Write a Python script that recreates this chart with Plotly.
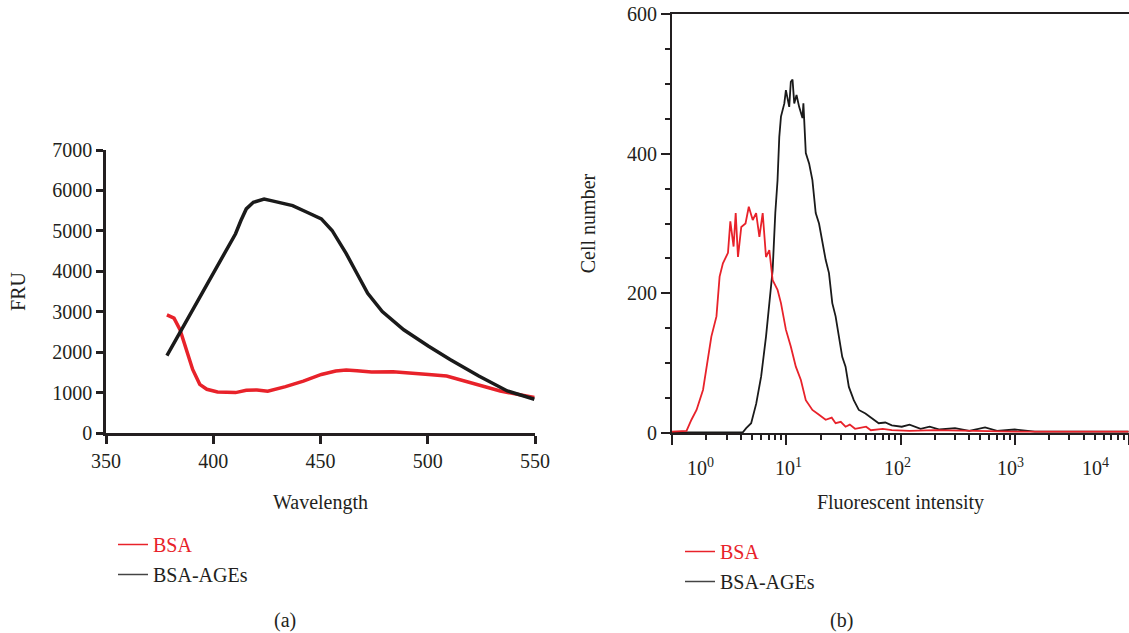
import plotly.graph_objects as go

# (a) emission spectra
wl_bsa = [378.4, 381.7, 384.5, 387, 390.4, 393.7, 397, 402, 410.4, 415.4, 420.4, 425.4,
          433.7, 442, 450.4, 457.1, 462, 467, 473.8, 483.8, 492.1, 500.4, 508.8, 517.1,
          533.8, 549.7]
fru_bsa = [2923, 2841, 2554, 2145, 1572, 1203, 1081, 1015, 999, 1056, 1064, 1032,
           1146, 1285, 1449, 1531, 1556, 1539, 1506, 1515, 1490, 1449, 1408, 1285,
           1040, 876]

wl_ages = [378.4, 388.7, 400, 405.4, 410.4, 412.9, 415.4, 418.7, 423.7, 427, 430.4, 437,
           443.7, 450.4, 455.4, 462, 467, 472, 478.8, 488.8, 500.4, 510.4, 523.8, 537.1,
           549.7]
fru_ages = [1916, 2882, 3946, 4437, 4928, 5256, 5543, 5706, 5788, 5747, 5706, 5624,
            5460, 5297, 5010, 4437, 3946, 3455, 3005, 2554, 2145, 1817, 1408, 1040, 835]

# (b) flow cytometry histograms
fl_bsa = [1.0, 1.34, 1.48, 1.64, 1.87, 2.0, 2.21, 2.45, 2.61, 2.79, 3.09, 3.24, 3.46,
          3.61, 3.78, 4.04, 4.40, 4.70, 5.09, 5.45, 5.82, 6.22, 6.65, 7.11, 7.60, 8.39,
          8.99, 9.93, 10.96, 12.13, 13.43, 14.83, 16.94, 19.36, 22.13, 25.0, 27.04, 30.0,
          33.04, 36.0, 40.0, 43.15, 50.0, 55.0, 60.26, 70.0, 83.9, 120, 200, 400, 1000,
          3000, 9900]
cnt_bsa = [2, 3, 19, 33, 62, 90, 138, 167, 224, 243, 258, 303, 267,
           315, 252, 295, 300, 324, 305, 315, 281, 315, 252, 262, 219, 205,
           186, 148, 124, 95, 76, 47, 33, 26, 19, 22, 14, 16,
           9, 12, 6, 7, 9, 4, 5, 6, 4, 3, 4, 3, 2,
           2, 2]

fl_ages = [1.0, 4.17, 4.46, 4.93, 5.46, 6.03, 6.65, 7.11, 7.60, 8.02, 8.39, 8.69, 8.99,
           9.62, 9.93, 10.62, 10.96, 11.35, 11.75, 12.30, 12.97, 13.87, 14.13, 14.83,
           15.85, 16.94, 18.11, 19.36, 20.70, 22.13, 23.66, 25.29, 27.04, 28.91, 30.90,
           33.04, 35.32, 39.00, 43.15, 49.32, 56.36, 64.42, 73.62, 83.95, 102.6, 120,
           150, 180, 220, 300, 400, 550, 700, 1000, 1500, 9900]
cnt_ages = [1, 1, 7, 14, 42, 81, 138, 186, 233, 315, 362, 424, 453,
            472, 491, 467, 503, 506, 472, 484, 467, 451, 472, 401,
            386, 362, 315, 300, 272, 248, 229, 186, 167, 138, 109,
            95, 66, 47, 33, 28, 21, 14, 15, 11, 9, 12,
            6, 9, 5, 7, 3, 8, 3, 5, 2, 2]

decades = [1, 10, 100, 1000, 10000]
decade_text = ["10<sup>0</sup>", "10<sup>1</sup>", "10<sup>2</sup>", "10<sup>3</sup>", "10<sup>4</sup>"]

RED = "#e8222a"
BLACK = "#1a1a1a"
INK = "#231f20"
FONT = "Liberation Serif, Times New Roman, serif"
BSA_NAME = "<span style='color:%s'>BSA</span>" % RED

fig = go.Figure()

# panel (a)
fig.add_trace(go.Scatter(x=wl_bsa, y=fru_bsa, mode="lines", showlegend=False,
                         line=dict(color=RED, width=3.5)))
fig.add_trace(go.Scatter(x=wl_ages, y=fru_ages, mode="lines", showlegend=False,
                         line=dict(color=BLACK, width=3.5)))

# panel (b)
fig.add_trace(go.Scatter(x=fl_ages, y=cnt_ages, mode="lines", showlegend=False, xaxis="x2", yaxis="y2",
                         line=dict(color=BLACK, width=1.8)))
fig.add_trace(go.Scatter(x=fl_bsa, y=cnt_bsa, mode="lines", showlegend=False, xaxis="x2", yaxis="y2",
                         line=dict(color=RED, width=1.8)))

# legend keys (thin lines like the original keys)
for leg, xa, ya in [("legend", "x", "y"), ("legend2", "x2", "y2")]:
    fig.add_trace(go.Scatter(x=[None], y=[None], mode="lines", name=BSA_NAME, xaxis=xa, yaxis=ya,
                             line=dict(color=RED, width=1.5), legend=leg, legendgroup=leg + "1"))
    fig.add_trace(go.Scatter(x=[None], y=[None], mode="lines", name="BSA-AGEs", xaxis=xa, yaxis=ya,
                             line=dict(color="#444444", width=1.5), legend=leg, legendgroup=leg + "2"))

axis_font = dict(family=FONT, size=20, color=INK)

fig.update_layout(
    width=1129, height=633,
    margin=dict(l=0, r=0, t=0, b=0, autoexpand=False),
    paper_bgcolor="white", plot_bgcolor="white",
    font=dict(family=FONT, size=20, color=INK),
    xaxis=dict(domain=[106 / 1129, 535 / 1129], range=[350, 550], tickvals=[350, 400, 450, 500, 550],
               showline=True, linecolor=INK, linewidth=2.7, ticks="outside", ticklen=8, tickwidth=2.7,
               tickcolor=INK, showgrid=False, zeroline=False, tickfont=axis_font, automargin=False,
               title=dict(text="Wavelength", font=axis_font, standoff=25), anchor="y"),
    yaxis=dict(domain=[200 / 633, 483 / 633], range=[0, 7000], tickvals=list(range(0, 7001, 1000)),
               showline=True, linecolor=INK, linewidth=2.7, ticks="outside", ticklen=7, tickwidth=2.7,
               tickcolor=INK, showgrid=False, zeroline=False, tickfont=axis_font, automargin=False,
               title=dict(text="FRU", font=axis_font, standoff=22), anchor="x"),
    xaxis2=dict(domain=[672 / 1129, 1.0], type="log", range=[0, 4], tickvals=decades,
                showticklabels=False, showline=True, mirror=True, linecolor=INK, linewidth=2,
                ticks="outside", ticklen=10, tickwidth=2, tickcolor=INK,
                minor=dict(ticks="outside", ticklen=5, tickwidth=1.5, tickcolor=INK, dtick="D1"),
                showgrid=False, zeroline=False, anchor="y2", automargin=False,
                title=dict(text="Fluorescent intensity", font=axis_font, standoff=51)),
    yaxis2=dict(domain=[200 / 633, 619 / 633], range=[0, 600], tickvals=[0, 200, 400, 600],
                showline=True, linecolor=INK, linewidth=2, ticks="outside", ticklen=9, tickwidth=2,
                tickcolor=INK, minor=dict(ticks="outside", ticklen=5, tickwidth=1.5, tickcolor=INK, dtick=50),
                showgrid=False, zeroline=False, tickfont=axis_font, anchor="x2", automargin=False,
                title=dict(text="Cell number", font=axis_font, standoff=26)),
    legend=dict(x=113 / 1129, y=1 - 525 / 633, xanchor="left", yanchor="top", tracegroupgap=1,
                font=dict(family=FONT, size=20, color=INK), bgcolor="rgba(0,0,0,0)", itemwidth=30),
    legend2=dict(x=680 / 1129, y=1 - 532 / 633, xanchor="left", yanchor="top", tracegroupgap=1,
                 font=dict(family=FONT, size=20, color=INK), bgcolor="rgba(0,0,0,0)", itemwidth=30),
)

# decade labels of the log axis, placed like the original figure
shifts = [28, 2, -3, -4, -34]
for v, t, s in zip(decades, decade_text, shifts):
    fig.add_annotation(x=len(str(v)) - 1, y=0, xref="x2", yref="y2", text=t, showarrow=False,
                       yanchor="top", yshift=-20, xshift=s, font=axis_font)

fig.add_annotation(x=272 / 1129, y=1 - 620 / 633, xref="paper", yref="paper", text="(a)",
                   showarrow=False, yanchor="middle", font=axis_font)
fig.add_annotation(x=855 / 1129, y=1 - 620 / 633, xref="paper", yref="paper", text="(b)",
                   showarrow=False, yanchor="middle", font=axis_font)

# page body has a default 8px margin; drop it so the figure sits at the window origin
fig.write_html("out.html", config={"displayModeBar": False},
               post_script="document.body.style.margin='0';")
